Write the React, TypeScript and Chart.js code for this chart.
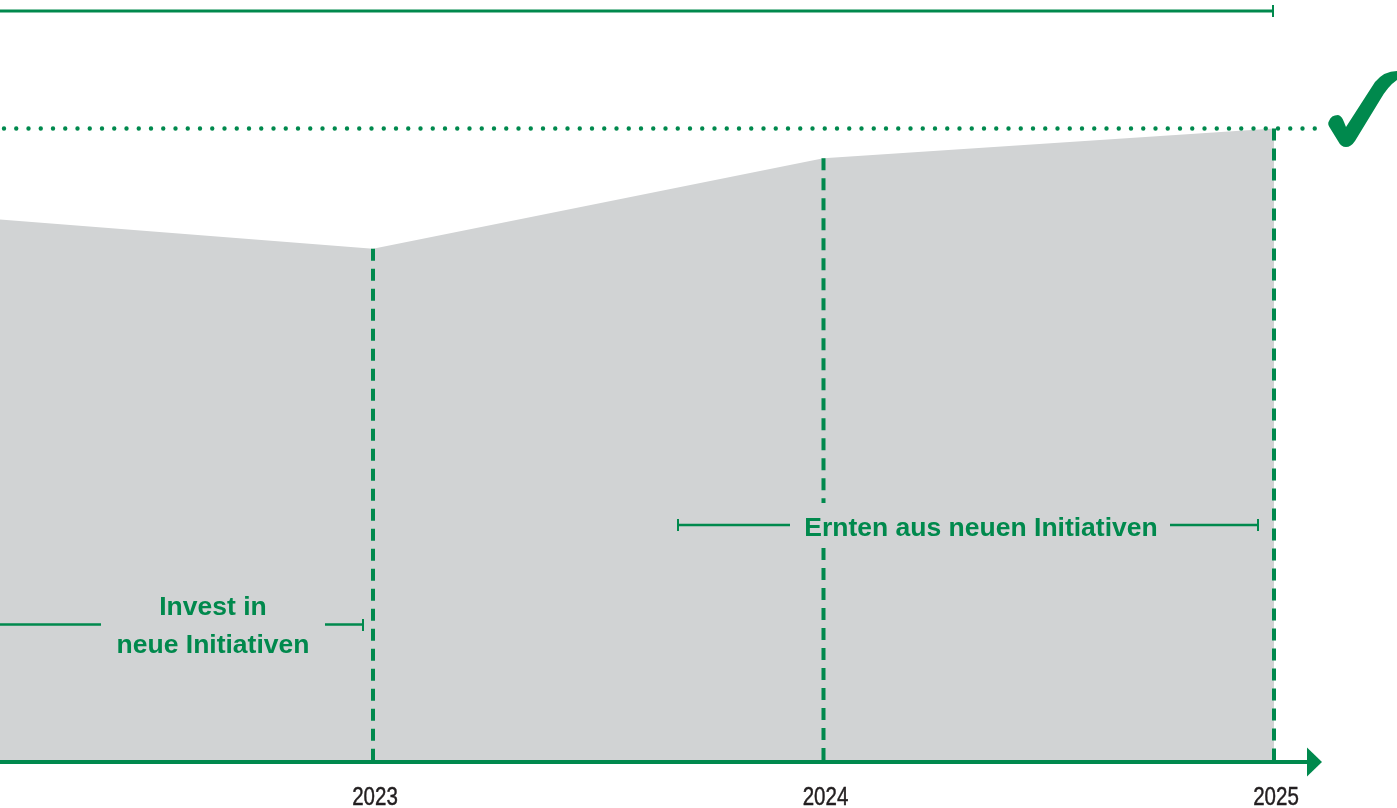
import React, { useEffect, useRef } from "react";
import { Chart, registerables } from "chart.js";

Chart.register(...registerables);

// ---- data ----
const years: number[] = [2022, 2023, 2024, 2025];
const values: number[] = [86.6, 81.0, 95.3, 100.0]; // relative level (target = 100)
const tickYears: number[] = [2023, 2024, 2025];
const tickLabels: string[] = ["2023", "2024", "2025"];
const dashedYears: number[] = [2023, 2024, 2025];
const targetValue = 100;
const investLabel: string[] = ["Invest in", "neue Initiativen"];
const harvestLabel = "Ernten aus neuen Initiativen";

// ---- style ----
const GREEN = "#00894d";
const GRAY = "#d1d3d4";
const TEXT = "#231f20";
const SANS = "'Liberation Sans', Arial, Helvetica, sans-serif";

const decorPlugin = {
  id: "decor",
  afterDatasetsDraw(chart: any) {
    const ctx = chart.ctx as CanvasRenderingContext2D;
    const xs = chart.scales.x;
    const ys = chart.scales.y;
    const area = chart.chartArea;
    const base = ys.getPixelForValue(0);
    ctx.save();

    // dashed vertical year lines
    ctx.strokeStyle = GREEN;
    ctx.lineWidth = 4;
    ctx.setLineDash([12, 8]);
    dashedYears.forEach((yr) => {
      const i = years.indexOf(yr);
      const px = xs.getPixelForValue(yr);
      const top = ys.getPixelForValue(values[i]);
      ctx.beginPath();
      if (yr === 2024) {
        ctx.moveTo(px, top);
        ctx.lineTo(px, 503);
        ctx.moveTo(px, 548);
        ctx.lineTo(px, base);
      } else {
        ctx.moveTo(px, top);
        ctx.lineTo(px, base);
      }
      ctx.stroke();
    });
    ctx.setLineDash([]);

    // baseline with arrow
    const arrowEnd = xs.getPixelForValue(2025) + 48;
    ctx.lineWidth = 4;
    ctx.beginPath();
    ctx.moveTo(area.left, base);
    ctx.lineTo(arrowEnd - 12, base);
    ctx.stroke();
    ctx.fillStyle = GREEN;
    ctx.beginPath();
    ctx.moveTo(arrowEnd - 15, base - 14.5);
    ctx.lineTo(arrowEnd, base);
    ctx.lineTo(arrowEnd - 15, base + 14.5);
    ctx.closePath();
    ctx.fill();

    // year labels (condensed)
    ctx.fillStyle = TEXT;
    ctx.strokeStyle = TEXT;
    ctx.lineWidth = 0.45;
    ctx.font = `25px ${SANS}`;
    ctx.textAlign = "center";
    ctx.textBaseline = "alphabetic";
    tickYears.forEach((yr, i) => {
      const px = xs.getPixelForValue(yr) + 2;
      ctx.save();
      ctx.translate(px, 805);
      ctx.scale(0.82, 1);
      ctx.fillText(tickLabels[i], 0, 0);
      ctx.strokeText(tickLabels[i], 0, 0);
      ctx.restore();
    });

    // dotted target line
    const ty = ys.getPixelForValue(targetValue);
    ctx.strokeStyle = GREEN;
    ctx.lineWidth = 4.4;
    ctx.lineCap = "round";
    ctx.setLineDash([0, 12.25]);
    ctx.beginPath();
    ctx.moveTo(4, ty);
    ctx.lineTo(1319, ty);
    ctx.stroke();
    ctx.setLineDash([]);
    ctx.lineCap = "butt";

    // top span line
    const endX = xs.getPixelForValue(2025) - 1;
    ctx.lineWidth = 3;
    ctx.beginPath();
    ctx.moveTo(0, 11);
    ctx.lineTo(endX, 11);
    ctx.stroke();
    ctx.lineWidth = 2;
    ctx.beginPath();
    ctx.moveTo(endX, 5);
    ctx.lineTo(endX, 17);
    ctx.stroke();

    // check mark
    ctx.fillStyle = GREEN;
    ctx.beginPath();
    ctx.moveTo(1329, 121);
    ctx.quadraticCurveTo(1331, 115, 1338, 115);
    ctx.quadraticCurveTo(1342, 116, 1344, 122);
    ctx.lineTo(1346, 127);
    ctx.lineTo(1375, 82);
    ctx.quadraticCurveTo(1384, 71, 1397, 71);
    ctx.lineTo(1397, 80);
    ctx.quadraticCurveTo(1388, 86, 1380, 100);
    ctx.lineTo(1355, 141);
    ctx.quadraticCurveTo(1351, 147, 1346, 147);
    ctx.quadraticCurveTo(1341, 147, 1338, 141);
    ctx.lineTo(1330, 128);
    ctx.quadraticCurveTo(1327, 124, 1329, 121);
    ctx.closePath();
    ctx.fill();

    // annotation: Invest
    ctx.fillStyle = GREEN;
    ctx.strokeStyle = GREEN;
    ctx.font = `bold 26.5px ${SANS}`;
    ctx.textAlign = "center";
    ctx.textBaseline = "alphabetic";
    ctx.fillText(investLabel[0], 213, 615);
    ctx.fillText(investLabel[1], 213, 653);
    ctx.lineWidth = 2.5;
    ctx.beginPath();
    ctx.moveTo(0, 624.5);
    ctx.lineTo(101, 624.5);
    ctx.moveTo(325, 624.5);
    ctx.lineTo(363, 624.5);
    ctx.stroke();
    ctx.lineWidth = 2;
    ctx.beginPath();
    ctx.moveTo(363, 619);
    ctx.lineTo(363, 631);
    ctx.stroke();

    // annotation: Ernten
    ctx.fillText(harvestLabel, 981, 535.5);
    ctx.lineWidth = 2.5;
    ctx.beginPath();
    ctx.moveTo(678, 525);
    ctx.lineTo(790, 525);
    ctx.moveTo(1170, 525);
    ctx.lineTo(1258, 525);
    ctx.stroke();
    ctx.lineWidth = 2;
    ctx.beginPath();
    ctx.moveTo(678, 519);
    ctx.lineTo(678, 531);
    ctx.moveTo(1258, 519);
    ctx.lineTo(1258, 531);
    ctx.stroke();

    ctx.restore();
  },
};

export default function App() {
  const ref = useRef<HTMLCanvasElement | null>(null);
  useEffect(() => {
    if (!ref.current) return;
    const chart = new Chart(ref.current, {
      type: "line",
      data: {
        datasets: [
          {
            data: years.map((x, i) => ({ x, y: values[i] })),
            fill: "origin",
            backgroundColor: GRAY,
            borderWidth: 0,
            borderColor: GRAY,
            pointRadius: 0,
            tension: 0,
          },
        ],
      },
      options: {
        animation: false,
        responsive: false,
        layout: { padding: 0 },
        plugins: { legend: { display: false }, tooltip: { enabled: false } },
        scales: {
          x: {
            type: "linear",
            min: 2023 - 373 / 450.5,
            max: 2025 + 123 / 450.5,
            grid: { display: false, drawTicks: false },
            border: { display: false },
            afterBuildTicks: (s: any) => {
              s.ticks = tickYears.map((value) => ({ value }));
            },
            afterFit: (s: any) => {
              s.height = 46;
            },
            ticks: { display: false },
          },
          y: {
            display: false,
            min: 0,
            max: (762 / 633.5) * 100,
          },
        },
      },
      plugins: [decorPlugin],
    });
    return () => chart.destroy();
  }, []);
  return (
    <div style={{ position: "absolute", left: 0, top: 0, width: 1397, height: 808, background: "#fff" }}>
      <canvas ref={ref} width={1397} height={808} style={{ display: "block" }} />
    </div>
  );
}
